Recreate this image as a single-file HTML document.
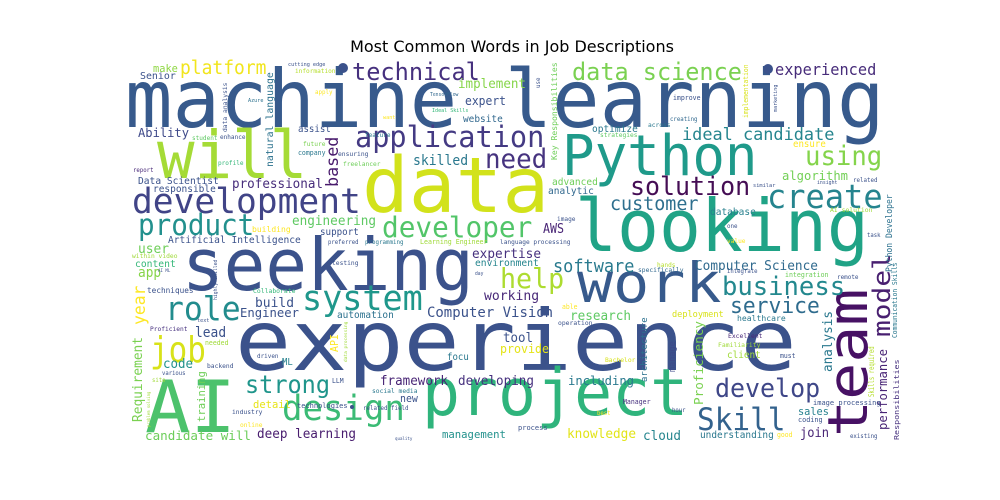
<!DOCTYPE html>
<html><head><meta charset="utf-8"><title>Word cloud</title>
<style>
html,body{margin:0;padding:0;background:#fff;}
svg{display:block;}
text{font-family:"DejaVu Sans Mono","Liberation Mono",monospace;}
.title{font-family:"DejaVu Sans","Liberation Sans",sans-serif;}
</style></head>
<body>
<svg id="chart" width="1000" height="500" viewBox="0 0 1000 500" xmlns="http://www.w3.org/2000/svg">
<rect x="0" y="0" width="1000" height="500" fill="#ffffff"/>
<text class="title" x="512" y="52" text-anchor="middle" font-size="16" fill="#000">Most Common Words in Job Descriptions</text>
<g id="cloud"></g>
</svg>
<script>
// words and their font sizes (0 = derived from the space the word occupies)
var words = ["machine learning","will","data","Python","looking","seeking","experience","AI","project","team","model","work",
"development","product","developer","application","technical","platform","data science","experienced","need","ideal candidate","using","create",
"solution","algorithm","customer","help","system","role","job","business","service","software","Computer Science","design","strong","Skill","develop",
"knowledge","cloud","join","understanding","sales","skilled","professional","Ability","engineering","deep learning","candidate will","management","framework",
"developing","Engineer","build","lead","code","year","Requirement","training","Computer Vision","research","tool","provide","expertise","environment","working",
"analysis","performance","Python Developer","Communication Skills","Skills required","Proficiency","architecture","manage","including","AWS","based","natural language",
"Key Responsibilities","optimize","advanced","analytic","database","expert","implement","website","Senior","make","assist","Data Scientist","responsible",
"Artificial Intelligence","support","building","user","content","app","healthcare","deployment","client","automation","focu","new","detail","API","ML",
"cutting edge","information","apply","Azure","TensorFlow","Ideal Skills","want","student","enhance","feature","future","company","ensuring","profile","freelancer",
"report","preferred","programming","Learning Engineer","improve","creating","across","strategies","ensure","similar","insight","related","AI solution","image","one",
"value","task","language processing","hands","specifically","integrate","integration","remote","able","operation","Excellent","Familiarity","must","Bachelor",
"Manager","image processing","hour","best","coding","process","good","existing","within video","AI ML","techniques","Collaborate","testing","day","text",
"Proficient","needed","driven","backend","various","site","LLM","social media","technologies","related field","industry","online","quality",
"data analysis","data processing","highly skilled","problem solving","implementation","marketing","use","Responsibilities"];
var sizes = [80,66,77,56,72,72,84,72,65,55,24,55,
35,29,28.5,29,24,18.5,24,16,27,17,27,33,
26,12.5,19,28,35,33,36,26,22,17.5,13,35,24.5,31,26,
13,13,13,10,11,14,13,12.7,13,13,12.8,11,12.9,
13,12.6,13,14,13,17,13,11,14,13,13,12,13,10,13.5,
13,12,9,7,8,12.5,9,9,12.5,13,17,10,
8,10,10,10,10,12,12.9,10,10,11,9.5,9.8,9.7,
9.7,9.8,8.3,13,10,14,8.3,8.8,9.7,9.6,9.6,11,10.9,11,10,
0,0,0,0,0,0,0,0,0,0,0,0,0,0,0,
0,0,0,0,0,0,0,0,9.5,0,0,0,0,0,0,
0,0,0,0,0,0,0,0,0,0,0,0,0,0,
0,0,0,0,0,0,0,0,0,0,0,0,0,0,0,
0,0,0,0,0,0,0,0,0,0,0,0,0,
0,0,0,0,7,0,0,7];
// layout: left x (or baseline x when rotated), baseline y (or start y when rotated), occupied length
var posX = [125,157,362,562,575,182,235,145,422,867,890,577,
132,138,382,355,352,180,572,775,485,682,805,767,
630,782,610,500,302,165,150,722,730,553,695,282,245,697,715,
567,643,800,700,798,413,232,138,292,257,145,442,380,
458,240,255,195,163,145,142,205,427,570,503,500,472,475,484,
832,887,892,897,874,703,647,675,568,543,338,273,
557,592,552,548,710,465,458,463,140,153,298,138,153,
168,320,252,138,135,138,737,672,727,337,447,400,253,338,282,
288,295,315,248,430,432,383,192,220,365,303,298,338,218,343,
133,328,365,420,673,670,648,600,793,753,817,853,830,557,727,
727,867,500,657,638,727,785,837,562,558,728,718,780,605,
623,813,672,597,798,518,777,850,132,158,147,253,332,475,197,
150,205,257,207,162,152,332,372,297,363,232,240,395,
227,347,217,150,748,777,540,899];
var posY = [127,178,212,175,251,290,370,432,415,437,337,302,
213,235,237,147,80,74,80,75,168,140,165,208,
195,180,210,288,310,320,362,295,313,272,270,420,393,430,397,
438,440,437,438,415,165,188,137,225,438,440,438,385,
385,317,307,337,368,325,422,422,317,320,342,353,258,266,300,
372,430,272,338,397,405,382,372,385,233,187,167,
160,132,185,194,215,105,88,122,79,72,132,184,192,
243,235,232,253,267,277,321,317,358,318,360,402,408,352,365,
66,73,94,102,96,112,119,140,139,137,146,155,156,165,166,
172,244,244,244,100,121,127,137,147,187,184,182,212,221,228,
243,237,244,267,272,273,277,279,309,325,338,347,358,362,
404,405,412,415,422,430,437,438,258,272,293,293,265,275,322,
331,345,358,368,375,382,383,393,408,410,414,427,440,
132,362,300,427,118,112,88,440];
var lens = [753,145,181,191,288,286,555,85,261,144,82,140,
226,114,148,187,126,85,168,100,60,151,75,113,
118,65,87,62,118,73,53,121,88,80,122,120,83,86,103,
68,37,28,73,30,54,90,50,83,98,105,63,67,
75,58,38,30,29,38,84,50,125,60,29,48,68,63,54,
60,80,77,75,50,83,64,30,65,20,49,94,
97,45,45,45,45,40,67,39,35,24,32,80,62,
132,38,38,30,40,22,48,51,33,56,21,17,37,17,10,
37,40,17,15,28,36,12,25,25,25,22,27,30,25,37,
20,30,38,67,27,27,22,37,32,22,20,24,42,18,10,
18,13,70,18,45,30,43,21,15,34,34,42,15,30,
27,67,13,13,24,29,15,27,45,12,46,42,26,8,12,
37,23,21,26,23,13,11,45,50,45,30,22,17,
49,40,40,35,53,27,10,80];
var rots = [];
var rotated = ["team","model","year","Requirement","training","analysis","performance","Python Developer","Communication Skills","Skills required",
"Proficiency","architecture","manage","based","natural language","Key Responsibilities","API","data analysis","data processing","highly skilled",
"problem solving","implementation","marketing","use","Responsibilities"];
for (var r = 0; r < words.length; r++) rots.push(rotated.indexOf(words[r]) >= 0 ? -90 : 0);
var colors = ["#375a8c","#a5db36","#d2e21b","#1f9a8a","#20a386","#3b528b","#3b528b","#4cc26c","#2fb47c","#471164","#481f70","#375a8c",
"#414487","#22908d","#52c569","#443a83","#46307e","#f1e51d","#7ad151","#472c7a","#46337f","#25858e","#84d44b","#25848e",
"#450d54","#73d056","#2e6f8e","#addc30","#1f978b","#228c8d","#d8e219","#23888e","#2f6c8e","#297a8e","#306a8e","#3bbb75","#1f958b","#33628d","#3f4788",
"#e2e418","#25858e","#482475","#2a788e","#26818e","#2a788e","#472d7b","#3e4989","#5ec962","#481c6e","#6ccd5a","#21918c","#482475",
"#46307e","#3b528b","#3b528b","#3b528b","#21918c","#fde725","#7ad151","#6ece58","#3b528b","#5ec962","#3b528b","#e5e419","#46307e","#25858e","#482878",
"#2a788e","#482475","#2c718e","#2a788e","#b5de2b","#7ad151","#2c718e","#3e4989","#29798e","#482475","#481a6c","#2c728e",
"#6ece58","#2a788e","#6ece58","#31688e","#27808e","#3b528b","#86d549","#31688e","#3b528b","#8fd744","#3b528b","#3b528b","#3b528b",
"#3b528b","#3b528b","#fde725","#6ece58","#35b779","#86d549","#2a788e","#d8e219","#a0da39","#2c718e","#2a788e","#3b528b","#e7e419","#fde725","#26828e",
"#3b528b","#b5de2b","#fde725","#2c718e","#31688e","#35b779","#fde725","#5ec962","#3b528b","#2a788e","#7ad151","#2a788e","#3b528b","#35b779","#6ece58",
"#482878","#3b528b","#2a788e","#a0da39","#3b528b","#31688e","#2a788e","#5ec962","#fde725","#3b528b","#3b528b","#3b528b","#a0da39","#3b528b","#3b528b",
"#fde725","#3b528b","#3b528b","#b5de2b","#31688e","#3b528b","#6ece58","#3b528b","#fde725","#3b528b","#482878","#a0da39","#3b528b","#d8e219",
"#46307e","#3b528b","#3b528b","#fde725","#3b528b","#3b528b","#fde725","#3b528b","#a0da39","#3b528b","#3b528b","#35b779","#3b528b","#3b528b","#3b528b",
"#46307e","#a0da39","#3b528b","#3b528b","#3b528b","#a0da39","#3b528b","#2a788e","#3b528b","#3b528b","#3b528b","#fde725","#3b528b",
"#3b528b","#a0da39","#3b528b","#a0da39","#d8e219","#3b528b","#3b528b","#46307e"];
// decorative dots
var dotX = [343,768,352];
var dotY = [68,69,407];
var dotR = [5,5,2];

var NS = "http://www.w3.org/2000/svg";
var g = document.getElementById("cloud");
for (var i = 0; i < words.length; i++) {
  var n = words[i].length;
  var s = sizes[i] > 0 ? sizes[i] : lens[i] / ((n - 0.35) * 0.6);
  var t = document.createElementNS(NS, "text");
  
  
  t.setAttribute("x", posX[i]);
  t.setAttribute("y", posY[i]);
  t.setAttribute("font-size", s.toFixed(2));
  t.setAttribute("fill", colors[i] || "#3b528b");
  t.setAttribute("textLength", (lens[i] + 0.08 * s).toFixed(1));
  t.setAttribute("lengthAdjust", "spacingAndGlyphs");
  if (rots[i] !== 0) t.setAttribute("transform", "rotate(" + rots[i] + " " + posX[i] + " " + posY[i] + ")");
  t.textContent = words[i];
  g.appendChild(t);
}
for (var d = 0; d < dotX.length; d++) {
  var c = document.createElementNS(NS, "circle");
  
  
  c.setAttribute("cx", dotX[d]); c.setAttribute("cy", dotY[d]); c.setAttribute("r", dotR[d]);
  c.setAttribute("fill", "#3b528b");
  g.appendChild(c);
}
</script>
</body></html>
